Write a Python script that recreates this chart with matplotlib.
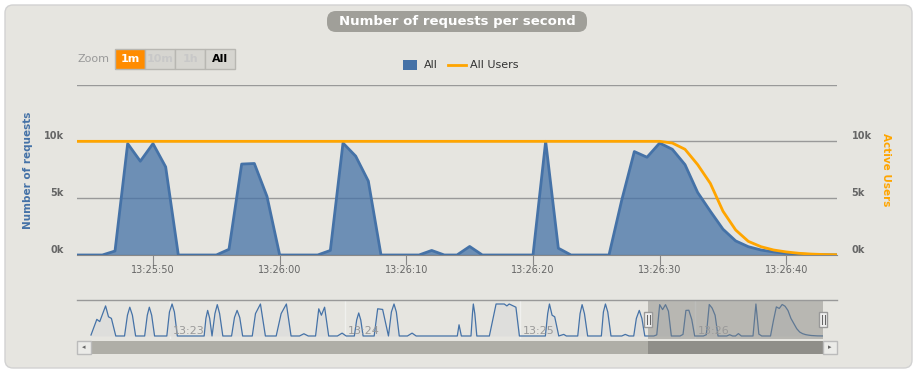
import numpy as np
import pandas as pd
import matplotlib
matplotlib.use("Agg")
import matplotlib.pyplot as plt
import matplotlib.dates as mdates
from matplotlib.patches import Rectangle, FancyBboxPatch
from matplotlib.lines import Line2D
from matplotlib.transforms import Affine2D, ScaledTranslation, blended_transform_factory

# --- data ---
day = "2000-01-01 "
window_start = "13:25:44"
requests = [0, 0, 0, 350, 9800, 8250, 9800, 7750, 0, 0,
            0, 0, 500, 8000, 8050, 5150, 0, 0, 0, 0,
            400, 9850, 8700, 6500, 0, 0, 0, 0, 400, 0,
            0, 750, 0, 0, 0, 0, 0, 10000, 600, 0,
            0, 0, 0, 4800, 9100, 8600, 9850, 9300, 7950, 5500,
            3850, 2270, 1240, 730, 440, 270, 150, 80, 40, 20, 10]
users = [10000] * 47 + [9850, 9300, 7950, 6300, 3850, 2200, 1200,
                        730, 440, 270, 150, 80, 40, 20]

# navigator history before the window: seconds after 13:22:00, value
nav_sec = [33, 35, 36, 38, 39, 40, 41.5,
           44.5, 45.5, 46.3, 47.2, 48.3, 51.4, 52.3, 53, 53.8, 54.8,
           59, 59.9, 60.8, 61.6, 62.6,
           71.8, 72.4, 73, 73.7, 74.5, 75.5, 76.3, 77.1, 78.2,
           81.2, 82.2, 83.1, 84, 85,
           88.3, 89.4, 91.1, 92.8, 96.5, 98.2, 100, 101.6,
           104.5, 106, 107.5, 110, 111.1, 112, 113.1, 114.5,
           117.5, 119.1, 120.5, 123.3, 124.1, 124.8, 125.5, 126.3,
           130.1, 131.3, 133, 135, 136, 136.9, 137.7, 138.7, 141.5, 143.1, 144.5,
           158.6, 159.2, 160, 163.3, 163.8, 164.1, 164.6, 165.3,
           169.6, 171.9, 174.7, 175.6, 176.4, 178.7, 179.9,
           188.8, 189.6, 190.2, 191.1, 192, 193.4, 195.1, 196,
           199.9, 200.7, 201.4, 202.2, 203.3, 208, 208.7, 209.4, 210.2, 211.3,
           215, 216.2, 217.5, 219.1, 220, 221, 221.9, 222.9]
nav_val = [300, 5200, 4500, 9400, 6000, 5500, 0,
           0, 6500, 9000, 6500, 0, 0, 6500, 9000, 6500, 0,
           0, 7500, 10000, 7500, 0,
           0, 5500, 8000, 5500, 0, 7000, 9800, 7000, 0,
           0, 5800, 8000, 5800, 0,
           0, 7000, 10000, 0, 0, 7000, 10000, 0,
           0, 700, 0, 0, 8500, 6500, 9000, 0,
           0, 900, 0, 0, 5000, 7200, 5000, 0,
           0, 8500, 8300, 0, 7500, 10000, 7500, 0, 0, 900, 0,
           0, 3500, 0, 0, 7000, 10000, 7000, 0,
           0, 10000, 10000, 9400, 10000, 9000, 0,
           0, 7000, 10000, 6500, 6000, 0, 500, 0,
           0, 7000, 9800, 7000, 0, 0, 7500, 10000, 7500, 0,
           0, 500, 0, 0, 5500, 8000, 5500, 0]
nav_minutes = ["13:23", "13:24", "13:25", "13:26"]

times = pd.Timestamp(day + window_start) + pd.to_timedelta(np.arange(len(requests)), unit="s")
hist_times = pd.Timestamp(day + "13:22:00") + pd.to_timedelta(nav_sec, unit="s")
nav_times = list(hist_times) + list(times)
nav_values = nav_val + requests

BLUE = "#4572A7"
ORANGE = "#FFA500"
BG = "#E6E5E0"

W, H = 918, 381
fig = plt.figure(figsize=(W / 100, H / 100), dpi=100, facecolor="white")
pix = Affine2D().scale(1 / W, -1 / H).translate(0, 1) + fig.transFigure
lift = ScaledTranslation(0, 6 / 100, fig.dpi_scale_trans)


def fx(px):
    return px / W


def fy(py):
    return 1 - py / H


# panel and title
fig.patches.append(FancyBboxPatch((5, 5), 907, 363, boxstyle="round,pad=0,rounding_size=8",
                                  transform=pix, facecolor=BG, edgecolor="#d2d2d2", lw=1, zorder=-10))
fig.patches.append(FancyBboxPatch((327, 11), 260, 21, boxstyle="round,pad=0,rounding_size=9",
                                  transform=pix, facecolor="#A09F99", edgecolor="none", zorder=1))
fig.text(fx(457), fy(21.5), "Number of requests per second", color="white", fontsize=9.5,
         fontweight="bold", ha="center", va="center")

# zoom buttons
fig.text(fx(77), fy(59.5), "Zoom", color="#999999", fontsize=8, va="center")
buttons = ["1m", "10m", "1h", "All"]
for i, b in enumerate(buttons):
    x0 = 115 + 30 * i
    face = "#FF8C00" if i == 0 else "#D6D5D0"
    fig.patches.append(Rectangle((x0, 49), 30, 20, transform=pix, facecolor=face,
                                 edgecolor="#B8B7B2", lw=1, zorder=2))
    tc = "white" if i == 0 else ("black" if b == "All" else "#C8C8C8")
    fig.text(fx(x0 + 15), fy(59.5), b, color=tc, fontsize=8, fontweight="bold",
             ha="center", va="center")

# legend
fig.patches.append(Rectangle((403, 60), 14, 10, transform=pix, facecolor=BLUE, edgecolor="none"))
fig.text(fx(424), fy(65.5), "All", color="#333333", fontsize=8, va="center")
fig.lines.append(Line2D([448, 466], [65, 65], transform=pix, color=ORANGE, lw=2))
fig.text(fx(470), fy(65.5), "All Users", color="#333333", fontsize=8, va="center")

# main chart
ax = fig.add_axes([fx(77), fy(255), (837 - 77) / W, (255 - 84.5) / H])
ax.set_facecolor("none")
ax.fill_between(times, requests, color=BLUE, alpha=0.75, lw=0, zorder=2)
ax.plot(times, requests, color=BLUE, lw=2, zorder=3)
ax.set_xlim(times[0], times[-1])
ax.set_ylim(0, 15000)
ax.set_yticks([0, 5000, 10000, 15000])
ax.set_yticklabels(["0k", "5k", "10k", ""])
ax.grid(axis="y", color="#999999", lw=1)
ax.set_axisbelow(True)
for s in ["top", "left", "right"]:
    ax.spines[s].set_visible(False)
ax.spines["bottom"].set_color("#888888")
ax.tick_params(axis="y", length=0, pad=9.5, labelsize=7, labelcolor="#666666")
for lab in ax.get_yticklabels():
    lab.set_fontweight("bold")
    lab.set_transform(lab.get_transform() + lift)
ax.xaxis.set_major_locator(mdates.SecondLocator(bysecond=[0, 10, 20, 30, 40, 50]))
ax.xaxis.set_major_formatter(mdates.DateFormatter("%H:%M:%S"))
ax.tick_params(axis="x", length=7, color="#888888", labelsize=7, labelcolor="#666666", pad=0.5)

ax2 = ax.twinx()
ax2.plot(times, users, color=ORANGE, lw=2, zorder=4)
ax2.set_ylim(0, 15000)
ax2.set_yticks([0, 5000, 10000])
ax2.set_yticklabels(["0k", "5k", "10k"])
for s in ["top", "left", "right", "bottom"]:
    ax2.spines[s].set_visible(False)
ax2.tick_params(axis="y", length=0, pad=10.5, labelsize=7, labelcolor="#666666")
for lab in ax2.get_yticklabels():
    lab.set_fontweight("bold")
    lab.set_transform(lab.get_transform() + lift)

fig.text(fx(28), fy(170), "Number of requests", color=BLUE, fontsize=7.5, fontweight="bold",
         rotation=90, ha="center", va="center")
fig.text(fx(886), fy(170), "Active Users", color=ORANGE, fontsize=7.5, fontweight="bold",
         rotation=270, ha="center", va="center")

# navigator
nav = fig.add_axes([fx(77), fy(339), (823 - 77) / W, 39 / H])
nav.set_facecolor("none")
nav_start = pd.Timestamp(day + "13:22:28.2")
nav.set_xlim(nav_start, times[-1])
nav.set_ylim(-940, 11250)
minute_ts = [pd.Timestamp(day + m) for m in nav_minutes]
for t in minute_ts:
    nav.axvline(t, color="#F0F0EE", lw=1, zorder=0)
nav.fill_between(nav_times, nav_values, color="#DDDDDB", alpha=0.8, lw=0, zorder=1)
nav.plot(nav_times, nav_values, color=BLUE, lw=0.9, zorder=2)
nav.axvspan(times[0], times[-1], color="#80807C", alpha=0.45, lw=0, zorder=3)
tr = blended_transform_factory(nav.transData, nav.transAxes)
for t, m in zip(minute_ts, nav_minutes):
    nav.text(t + pd.Timedelta(seconds=1), 0.08, m, transform=tr, color="#999999",
             fontsize=8, ha="left", va="bottom", zorder=4)
nav.set_xticks([])
nav.set_yticks([])
for s in nav.spines.values():
    s.set_visible(False)
fig.lines.append(Line2D([77, 837], [300, 300], transform=pix, color="#999999", lw=1))

# navigator handles
for hx in [648, 823]:
    fig.patches.append(Rectangle((hx - 4, 312), 8, 15, transform=pix, facecolor="#F2F2F2",
                                 edgecolor="#999999", lw=1, zorder=5))
    for dx in (-1.5, 1.5):
        fig.lines.append(Line2D([hx + dx, hx + dx], [315, 324], transform=pix,
                                color="#666666", lw=0.8, zorder=6))

# scrollbar
fig.patches.append(Rectangle((91, 341), 732, 13, transform=pix, facecolor="#AFAEA7",
                             edgecolor="none", zorder=2))
fig.patches.append(Rectangle((648, 341), 175, 13, transform=pix, facecolor="#8F8E89",
                             edgecolor="none", zorder=3))
for bx, arrow in [(77, "◂"), (823, "▸")]:
    fig.patches.append(Rectangle((bx, 341), 14, 13, transform=pix, facecolor="#EBEBE8",
                                 edgecolor="#BBBBBB", lw=1, zorder=4))
    fig.text(fx(bx + 7), fy(347.5), arrow, color="#666666", fontsize=5,
             ha="center", va="center", zorder=5)

fig.savefig("out.png", dpi=100, facecolor="white")
